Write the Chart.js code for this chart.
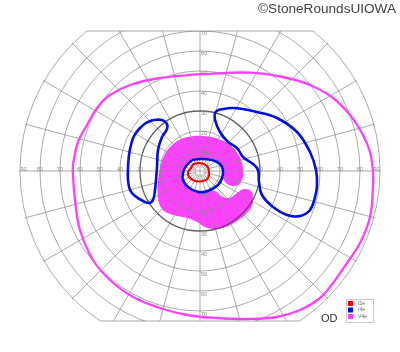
<!DOCTYPE html>
<html>
<head>
<meta charset="utf-8">
<script src="https://cdn.jsdelivr.net/npm/chart.js@4.4.1/dist/chart.umd.min.js"></script>
<style>
  html,body{margin:0;padding:0;background:#fff;}
  #wrap{width:400px;height:352px;}
</style>
</head>
<body>
<div id="wrap"><canvas id="vf" width="400" height="352"></canvas></div>
<script>
(function(){
  'use strict';

  // isopters, in degrees: [horizontal (+ right), vertical (+ up)]
  const V4E_OUTER = [[0,48.4],[25,49.2],[41.5,47],[55,43],[66.5,36.5],[75,28],[81.5,18],[85,9.5],[86.5,-0.5],
    [86.5,-8],[85,-23],[80,-36],[73.5,-46],[66.5,-56],[60,-63.5],[50,-69.5],[38.5,-73],[23.5,-74],[8.5,-73.5],
    [-6.5,-72],[-20,-68.5],[-33.5,-63],[-45,-54.5],[-53.5,-44.5],[-60,-29.5],[-62.5,-14.5],[-63.5,-2],[-63.5,3],
    [-61,14.5],[-56.5,23],[-51.5,31.5],[-45,38],[-35,43],[-20,46.5],[0,48.4]];
  const V4E_SCOTOMA = [[11.5,-3.5],[13,-6],[16,-7.5],[19,-7],[21,-4.5],[21.5,-0.5],[21,4],[19,8.5],[15.5,12.5],
    [10.5,15.5],[4,17.25],[-3,17.5],[-9.5,16],[-14.5,12.5],[-18,7.5],[-20,1.5],[-21,-5.5],[-21,-13.5],[-19,-19],
    [-13.5,-22],[-6.5,-23.5],[-1.5,-25.5],[2.5,-28],[7.5,-29],[13,-28],[18.5,-25],[23,-21.5],[26,-17.5],[26.5,-13.5],
    [25.5,-10],[22,-9],[18.5,-11],[14.5,-13.5],[10.5,-12.5],[7.5,-10],[4,-10.5],[-1,-11],[-6,-8.5],[-9,-4.5],
    [-9,-0.5],[-7,3],[-4,6],[0,6.5],[6,6],[10,4],[12,0.5],[11.5,-3.5]];
  const I4E_LEFT = [[-23.5,25.5],[-19,25.5],[-16.5,23.5],[-16.5,21],[-19,17],[-21,10.5],[-21.5,2],[-22,-4.5],
    [-22.5,-9.5],[-23.5,-14.5],[-25.5,-16],[-28.5,-15],[-32.5,-12.5],[-35,-9.5],[-36,-4.5],[-36,1.5],[-35.5,8],
    [-34.5,13],[-33,17.5],[-30,21.5],[-27,24],[-23.5,25.5]];
  const I4E_RIGHT = [[9,30.5],[16.5,31.5],[28.5,29.5],[38.5,26.5],[48.5,19.5],[55,9.5],[58,0.5],[58.5,-7],
    [57.5,-13],[55,-19.5],[50,-22.5],[43.5,-22],[36.5,-18],[31,-12],[29.5,-5.5],[29,0.5],[26.5,3.5],[21.5,7],
    [18.5,11.5],[14,14.5],[10,19.5],[7.5,25.5],[7.5,29],[9,30.5]];
  const I4E_CENTER = [[-4,5.5],[0,6],[6,5.5],[10,3.5],[11.5,0.5],[11,-3.5],[9,-7],[4,-10],[-1,-10.5],[-6,-8],
    [-8.5,-4.5],[-8.5,-1],[-7,2.5],[-4,5.5]];
  const I2E = [[-3.5,3.5],[0,4],[3.5,2.5],[4.5,-0.5],[4,-3.5],[1.5,-5],[-2.5,-5],[-5.5,-3],[-6,-0.5],[-4.5,1.5],
    [-3.5,3.5]];

  // grid
  const RINGS = [10,20,30,40,50,60,70,80,90];
  const DARK_RING = 30;
  const SPOKE_STEP = 15;
  const H_LABELS = [30,40,50,60,70,80,90];
  const V_LABELS_UP = [10,20,30,40,50,60,70];
  const V_LABELS_DOWN = [10,20,30,40,50,60,70];
  const TOP_LIMIT = 70, BOTTOM_LIMIT = 75;

  const LEGEND = [
    { label:'I2e', color:'#ff0000' },
    { label:'I4e', color:'#0010e0' },
    { label:'V4e', color:'#ff40ff' }
  ];
  const EYE = 'OD';
  const CREDIT = '\u00a9StoneRoundsUIOWA';

  const pts = arr => arr.map(p => ({ x:p[0], y:p[1] }));

  const gridPlugin = {
    id:'vfGrid',
    afterDatasetDraw(chart, args){
      if (args.index !== 0) return;
      const xs = chart.scales.x, ys = chart.scales.y, ctx = chart.ctx;
      const cx = xs.getPixelForValue(0), cy = ys.getPixelForValue(0);
      const ppd = xs.getPixelForValue(1) - cx;
      const R = 90*ppd;
      const top = ys.getPixelForValue(TOP_LIMIT), bot = ys.getPixelForValue(-BOTTOM_LIMIT);

      ctx.save();
      ctx.beginPath(); ctx.arc(cx, cy, R+1, 0, Math.PI*2); ctx.clip();
      ctx.beginPath(); ctx.rect(0, top, chart.width, bot-top); ctx.clip();
      ctx.lineWidth = 1;
      ctx.strokeStyle = 'rgba(135,135,135,0.7)';
      for (let a=0; a<360; a+=SPOKE_STEP){
        const t = a*Math.PI/180, r0 = (a % 90 === 0) ? 0 : 2*ppd;
        ctx.beginPath(); ctx.moveTo(cx + Math.cos(t)*r0, cy - Math.sin(t)*r0);
        ctx.lineTo(cx + Math.cos(t)*R*1.2, cy - Math.sin(t)*R*1.2); ctx.stroke();
      }
      RINGS.forEach(r=>{
        if (r === DARK_RING) return;
        ctx.beginPath(); ctx.arc(cx, cy, r*ppd, 0, Math.PI*2); ctx.stroke();
      });
      ctx.strokeStyle = 'rgba(70,70,70,0.85)'; ctx.lineWidth = 1.3;
      ctx.beginPath(); ctx.arc(cx, cy, DARK_RING*ppd, 0, Math.PI*2); ctx.stroke();
      ctx.restore();

      // flat top / bottom edges
      ctx.save();
      ctx.strokeStyle = 'rgba(135,135,135,0.7)'; ctx.lineWidth = 1;
      [top, bot].forEach(yy=>{
        const dx = Math.sqrt(Math.max(0, R*R - (yy-cy)*(yy-cy)));
        ctx.beginPath(); ctx.moveTo(cx-dx, yy); ctx.lineTo(cx+dx, yy); ctx.stroke();
      });

      // degree labels
      ctx.fillStyle = '#8a8a8a';
      ctx.font = '5.5px "Liberation Sans", Arial, sans-serif';
      ctx.textAlign = 'center'; ctx.textBaseline = 'alphabetic';
      H_LABELS.forEach(v=>{
        const w = ctx.measureText(String(v)).width;
        const off = Math.min(v*ppd, R - w/2 - 0.5);
        ctx.fillText(String(v), cx - off, cy);
        ctx.fillText(String(v), cx + off, cy);
      });
      ctx.textAlign = 'left'; ctx.textBaseline = 'middle';
      V_LABELS_UP.forEach(v=> ctx.fillText(String(v), cx + 1, ys.getPixelForValue(v) + 2.5));
      V_LABELS_DOWN.forEach(v=> ctx.fillText(String(v), cx + 1, ys.getPixelForValue(-v) + 3));
      ctx.restore();
    },
    afterDraw(chart){
      const ctx = chart.ctx;
      ctx.save();
      // legend box
      ctx.fillStyle = '#fff'; ctx.strokeStyle = '#c8c8c8'; ctx.lineWidth = 1;
      ctx.fillRect(346.5, 299.5, 27, 23); ctx.strokeRect(346.5, 299.5, 27, 23);
      ctx.font = '5px "Liberation Sans", Arial, sans-serif';
      ctx.textBaseline = 'middle'; ctx.textAlign = 'left';
      LEGEND.forEach((it, i)=>{
        const y = 303.5 + i*6.5;
        ctx.fillStyle = it.color; ctx.fillRect(348, y-2.5, 5, 5);
        ctx.fillStyle = '#666'; ctx.fillText(it.label, 358, y);
      });
      ctx.fillStyle = '#333';
      ctx.font = '11px "Liberation Sans", Arial, sans-serif';
      ctx.textBaseline = 'alphabetic';
      ctx.fillText(EYE, 321, 322);
      ctx.fillStyle = '#444';
      ctx.font = '13.6px "Liberation Sans", Arial, sans-serif';
      ctx.textAlign = 'right';
      ctx.fillText(CREDIT, 396, 13);
      ctx.restore();
    }
  };

  function lineDs(label, data, color, width){
    return { label, data: pts(data), showLine:true, borderColor:color, borderWidth:width,
      pointRadius:0, tension:0.4, fill:false, order:1 };
  }

  new Chart(document.getElementById('vf'), {
    type:'scatter',
    data:{
      datasets:[
        { label:'V4e scotoma', data: pts(V4E_SCOTOMA), showLine:true, borderWidth:0, borderColor:'rgba(0,0,0,0)',
          backgroundColor:'#ff40ff', fill:'shape', pointRadius:0, tension:0.4, order:5 },
        lineDs('V4e', V4E_OUTER, '#ff40ff', 2.3),
        lineDs('I4e', I4E_LEFT, '#0010e0', 2.6),
        lineDs('I4e', I4E_RIGHT, '#0010e0', 2.6),
        lineDs('I4e', I4E_CENTER, '#0010e0', 2.6),
        lineDs('I2e', I2E, '#ff0000', 2.2)
      ]
    },
    options:{
      responsive:false,
      animation:false,
      events:[],
      layout:{ padding:0 },
      scales:{
        x:{ type:'linear', min:-100, max:100, display:false },
        y:{ type:'linear', min:-90.5, max:85.5, display:false }
      },
      plugins:{ legend:{ display:false }, tooltip:{ enabled:false } }
    },
    plugins:[gridPlugin]
  });
})();
</script>
</body>
</html>
